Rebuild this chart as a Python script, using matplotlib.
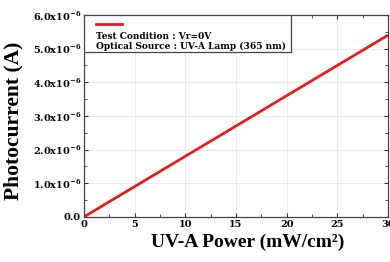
import matplotlib
matplotlib.use("Agg")
import matplotlib.pyplot as plt
from matplotlib.ticker import MultipleLocator, FuncFormatter
from matplotlib.patches import Rectangle
from matplotlib.lines import Line2D

plt.rcParams['font.family'] = 'DejaVu Serif'
plt.rcParams['font.weight'] = 'bold'
plt.rcParams['mathtext.fontset'] = 'custom'
plt.rcParams['mathtext.rm'] = 'DejaVu Serif:bold'
plt.rcParams['mathtext.bf'] = 'DejaVu Serif:bold'

# UV-A power (mW/cm^2) vs photocurrent (A)
power = [0, 5, 10, 15, 20, 25, 30]
current = [0.0, 0.9e-6, 1.8e-6, 2.7e-6, 3.6e-6, 4.5e-6, 5.4e-6]

fig = plt.figure(figsize=(3.9, 2.62), dpi=100)
ax = fig.add_axes([0.215, 0.172, 0.78, 0.771])

ax.plot(power, current, color='#e0201f', linewidth=2.0, solid_capstyle='butt')

ax.set_xlim(0, 30)
ax.set_ylim(0, 6e-6)
ax.xaxis.set_major_locator(MultipleLocator(5))
ax.xaxis.set_minor_locator(MultipleLocator(2.5))
ax.yaxis.set_major_locator(MultipleLocator(1e-6))
ax.yaxis.set_minor_locator(MultipleLocator(0.5e-6))


def yfmt(v, _):
    if abs(v) < 1e-12:
        return '0.0'
    return '%.1fx10$^{-6}$' % (v * 1e6)


ax.yaxis.set_major_formatter(FuncFormatter(yfmt))
ax.tick_params(which='both', direction='in', top=True, right=True,
               labelsize=7, colors='#333333', labelcolor='black', pad=2)
ax.tick_params(which='major', length=3, width=0.8)
ax.tick_params(which='minor', length=2, width=0.6)
ax.grid(True, which='major', color='#e8e8e8', linewidth=0.6)
for s in ax.spines.values():
    s.set_color('#444444')
    s.set_linewidth(0.9)

ax.set_xlabel('UV-A Power (mW/cm²)', fontsize=14, fontweight='bold',
              family='Liberation Serif')
ax.set_ylabel('Photocurrent (A)', fontsize=15.5, fontweight='bold',
              family='Liberation Serif')
ax.xaxis.set_label_coords(0.54, -0.085)
ax.yaxis.set_label_coords(-0.2, 0.475)

# legend box
ax.add_patch(Rectangle((0, 0.815), 0.68, 0.185, transform=ax.transAxes,
                       facecolor='white', edgecolor='#444444', linewidth=0.9, zorder=5))
ax.add_line(Line2D([0.04, 0.125], [0.955, 0.955], transform=ax.transAxes,
                   color='#e0201f', linewidth=2.0, zorder=6))
ax.text(0.04, 0.895, 'Test Condition : Vr=0V', transform=ax.transAxes,
        fontsize=6.5, fontweight='bold', va='center', zorder=6)
ax.text(0.04, 0.845, 'Optical Source : UV-A Lamp (365 nm)', transform=ax.transAxes,
        fontsize=6.5, fontweight='bold', va='center', zorder=6)

fig.savefig('out.png', dpi=100)
